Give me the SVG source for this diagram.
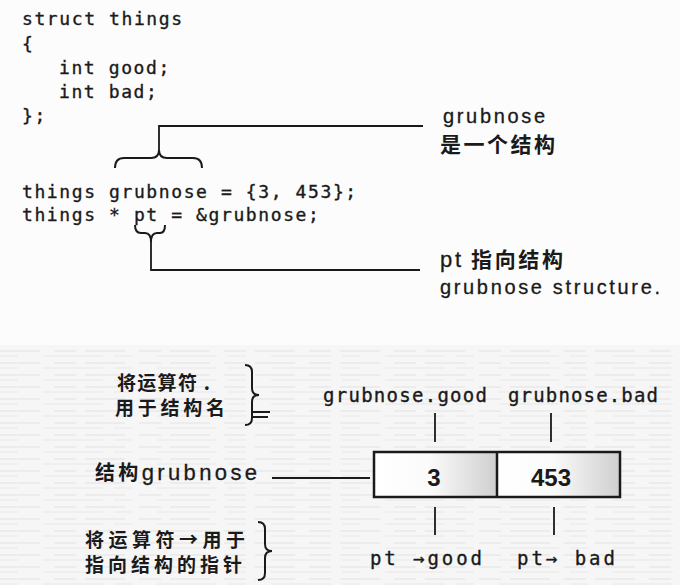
<svg xmlns="http://www.w3.org/2000/svg" width="680" height="585" viewBox="0 0 680 585">
<defs>
<linearGradient id="cellg" x1="0" y1="0" x2="1" y2="0">
<stop offset="0" stop-color="#ffffff"/>
<stop offset="0.45" stop-color="#fbfbfb"/>
<stop offset="1" stop-color="#cfcfcf"/>
</linearGradient>
<pattern id="streaks" width="680" height="12" patternUnits="userSpaceOnUse">
<rect width="680" height="12" fill="#f6f6f6"/>
<line x1="0" y1="3" x2="680" y2="3" stroke="#e2e2e2" stroke-width="1" stroke-dasharray="40 14 22 9"/>
<line x1="0" y1="8" x2="680" y2="8" stroke="#e8e8e8" stroke-width="1" stroke-dasharray="18 25 60 11"/>
</pattern>
<style>
.code{font-family:"DejaVu Sans Mono","Liberation Mono",monospace;font-size:18px;letter-spacing:1.6px;fill:#1a1a1a;stroke:#1a1a1a;stroke-width:0.35px}
.mono{font-family:"DejaVu Sans Mono","Liberation Mono",monospace;font-size:19px;fill:#1a1a1a;stroke:#1a1a1a;stroke-width:0.35px}
.sans{font-family:"Liberation Sans","Noto Sans CJK SC",sans-serif;font-size:20px;font-weight:normal;fill:#1a1a1a;stroke:#1a1a1a;stroke-width:0.3px}
.cjk{font-family:"Noto Sans CJK SC",sans-serif;font-size:19px;font-weight:bold;fill:#1a1a1a}
.big{font-size:21px}
.num{font-family:"Liberation Sans",sans-serif;font-size:24px;font-weight:bold;fill:#1a1a1a;text-anchor:middle}
.ln{fill:none;stroke:#1a1a1a;stroke-width:1.8}
.br{fill:none;stroke:#1a1a1a;stroke-width:2}
</style>
</defs>
<rect width="680" height="585" fill="#fcfcfc"/>
<rect x="0" y="345" width="680" height="240" fill="url(#streaks)"/>

<g id="code">
<text class="code" x="22" y="25">struct things</text>
<text class="code" x="22" y="50">{</text>
<text class="code" x="59" y="74">int good;</text>
<text class="code" x="59" y="98">int bad;</text>
<text class="code" x="22" y="122">};</text>
<text class="code" x="22" y="198">things grubnose = {3, 453};</text>
<text class="code" x="22" y="221">things * pt = &amp;grubnose;</text>
</g>

<g id="connectors">
<path class="br" d="M115,168 Q115,158 124,158 L151,158 Q159,158 159,150 Q159,158 167,158 L193,158 Q202,158 202,168"/>
<path class="ln" d="M159,150 L159,126 L423,126"/>
<path class="br" d="M135,225 Q135,233 141,233 L145,233 Q151,233 151,242 Q151,233 157,233 L160,233 Q165,233 165,225"/>
<path class="ln" d="M151,242 L151,270 L420,270"/>
<path class="br" d="M245,365 Q252,365 252,372 L252,388 Q252,395 259,395 Q252,395 252,402 L252,418 Q252,425 245,425"/>
<path class="ln" stroke-width="1.2" d="M253,412 L270,412 M253,417 L268,417"/>
<path class="br" d="M258,522 Q265,522 265,529 L265,544 Q265,551 272,551 Q265,551 265,558 L265,573 Q265,580 258,580"/>
<path class="ln" d="M272,478 L370,478"/>
<path class="ln" stroke-width="2.2" d="M435,413 L435,442 M551,413 L551,442 M435,507 L435,535 M554,507 L554,535"/>
</g>

<g id="label-struct">
<text class="sans" x="443" y="123" textLength="102" lengthAdjust="spacing">grubnose</text>
<text class="cjk big" x="440" y="152" textLength="115" lengthAdjust="spacing">是一个结构</text>
</g>

<g id="label-pointer">
<text class="cjk big" x="440" y="267" textLength="123" lengthAdjust="spacing"><tspan class="sans" style="font-size:22px">pt</tspan> 指向结构</text>
<text class="sans" x="440" y="294" textLength="220" lengthAdjust="spacing">grubnose structure.</text>
</g>

<g id="label-dot">
<text class="cjk" x="117" y="390" textLength="93" lengthAdjust="spacing">将运算符 .</text>
<text class="cjk" x="115" y="415" textLength="110" lengthAdjust="spacing">用于结构名</text>
</g>

<g id="label-arrow">
<text class="cjk" x="85" y="547" textLength="160" lengthAdjust="spacing">将运算符→用于</text>
<text class="cjk" x="85" y="572" textLength="157" lengthAdjust="spacing">指向结构的指针</text>
</g>

<g id="label-grubnose">
<text class="cjk" x="95" y="480" style="font-size:20px" textLength="162" lengthAdjust="spacing">结构<tspan class="sans" style="font-size:22px">grubnose</tspan></text>
</g>

<g id="top-labels">
<text class="mono" x="323" y="402" textLength="164" lengthAdjust="spacing">grubnose.good</text>
<text class="mono" x="508" y="402" textLength="150" lengthAdjust="spacing">grubnose.bad</text>
</g>

<g id="box">
<rect x="374" y="452" width="123" height="45" fill="url(#cellg)"/>
<rect x="497" y="452" width="123" height="45" fill="url(#cellg)"/>
<rect x="374" y="452" width="246" height="45" fill="none" stroke="#1a1a1a" stroke-width="2.5"/>
<line x1="497" y1="452" x2="497" y2="497" stroke="#1a1a1a" stroke-width="2.5"/>
<text class="num" x="434" y="486">3</text>
<text class="num" x="551" y="486">453</text>
</g>

<g id="bottom-labels">
<text class="mono" x="370" y="565" textLength="112" lengthAdjust="spacing">pt →good</text>
<text class="mono" x="517" y="565" textLength="98" lengthAdjust="spacing">pt→ bad</text>
</g>
</svg>
